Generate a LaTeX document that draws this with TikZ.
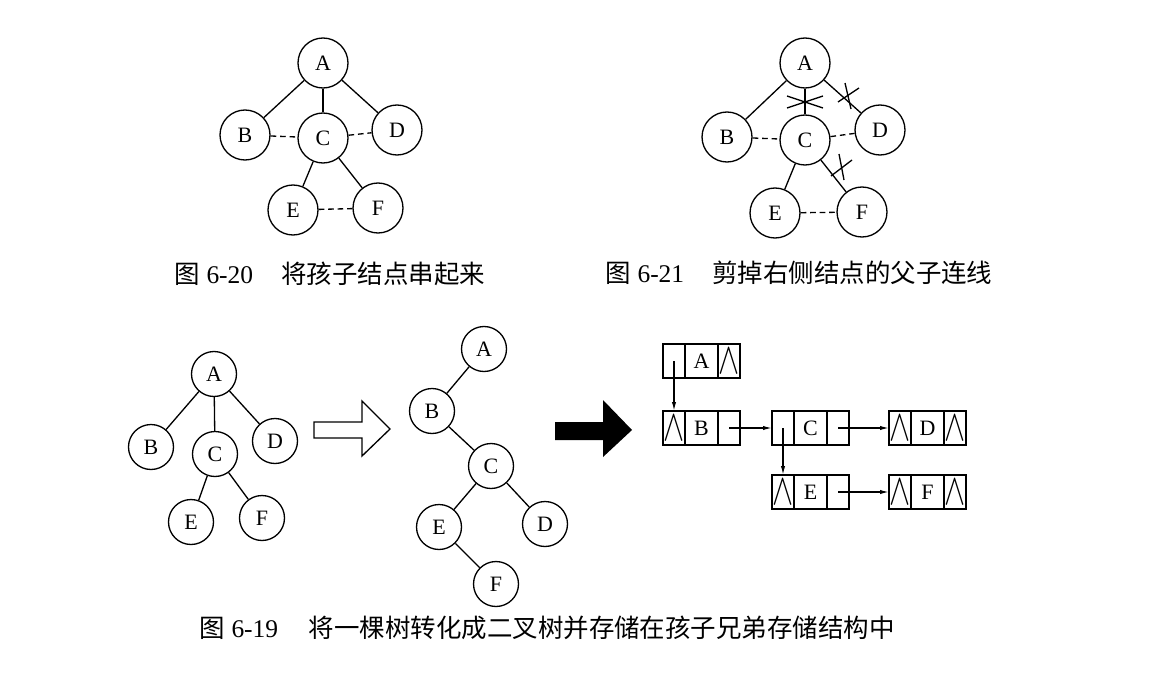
\documentclass[tikz,border=0pt]{standalone}
\usepackage{fontspec}
\setmainfont{Liberation Serif}
\newfontfamily\cjk{Noto Sans CJK SC}
\usepackage{graphicx}
\usetikzlibrary{positioning,arrows.meta}

\newcommand{\nullsym}{\scalebox{1.5}[2.1]{$\wedge$}}
% one child-sibling record: first child | data | next sibling
\newcommand{\listnode}[5]{%
  \node[cellS] (#1l) at (#2) {#3};
  \node[cellM, right=0pt of #1l] (#1d) {#4};
  \node[cellS, right=0pt of #1d] (#1r) {#5};
}

\begin{document}
\begin{tikzpicture}[x=0.02cm, y=-0.02cm, line width=0.75pt,
    vtx/.style={draw, circle, minimum size=1cm, inner sep=0pt, font=\fontsize{12.5}{14}\selectfont},
    vtxs/.style={vtx, minimum size=0.9cm},
    sib/.style={dash pattern=on 3.2pt off 2.2pt},
    cellS/.style={draw, minimum width=0.44cm, minimum height=0.68cm, inner sep=0pt, outer sep=0pt, font=\fontsize{12.5}{14}\selectfont},
    cellM/.style={cellS, minimum width=0.66cm},
    ptr/.style={-{Latex[length=5pt,width=2.4pt]}},
    figcap/.style={anchor=west, inner sep=0pt, font=\fontsize{14.5}{17}\selectfont}]
    \useasboundingbox (0,0) rectangle (1168,696);

    % Fig 6-20: children strung together
    \node[vtx] (a1) at (323,63) {A};
    \node[vtx] (b1) at (245,135) {B};
    \node[vtx] (c1) at (323,138) {C};
    \node[vtx] (d1) at (397,130) {D};
    \node[vtx] (e1) at (293,210) {E};
    \node[vtx] (f1) at (378,208) {F};
    \draw (a1) -- (b1);
    \draw (a1) -- (c1);
    \draw (a1) -- (d1);
    \draw (c1) -- (e1);
    \draw (c1) -- (f1);
    \draw[sib] (b1) -- (c1);
    \draw[sib] (c1) -- (d1);
    \draw[sib] (e1) -- (f1);
    \node[figcap] (cap1) at (174,274) {{\cjk 图}\ 6-20\hspace{1.1em}{\cjk 将孩子结点串起来}};

    % Fig 6-21: cut parent links of right nodes
    \node[vtx] (a2) at (805,63) {A};
    \node[vtx] (b2) at (727,137) {B};
    \node[vtx] (c2) at (805,140) {C};
    \node[vtx] (d2) at (880,130) {D};
    \node[vtx] (e2) at (775,213) {E};
    \node[vtx] (f2) at (862,212) {F};
    \draw (a2) -- (b2);
    \draw (a2) -- (c2);
    \draw (a2) -- (d2);
    \draw (c2) -- (e2);
    \draw (c2) -- (f2);
    \draw[sib] (b2) -- (c2);
    \draw[sib] (c2) -- (d2);
    \draw[sib] (e2) -- (f2);
    % cut marks
    \coordinate (cutAC) at (805,102);
    \coordinate (cutAD) at (848,96);
    \coordinate (cutCF) at (841,167);
    \draw (cutAC) ++(-18,-6) -- ++(36,12);
    \draw (cutAC) ++(-18,6) -- ++(36,-12);
    \draw (cutAD) ++(-3,-13) -- ++(6,26);
    \draw (cutAD) ++(-10,6) -- ++(21,-14);
    \draw (cutCF) ++(-2,-13) -- ++(5,26);
    \draw (cutCF) ++(-10,9) -- ++(21,-16);
    \node[figcap] (cap2) at (605,273) {{\cjk 图}\ 6-21\hspace{1.1em}{\cjk 剪掉右侧结点的父子连线}};

    % Fig 6-19: tree
    \node[vtxs] (a3) at (214,374) {A};
    \node[vtxs] (b3) at (151,447) {B};
    \node[vtxs] (c3) at (215,454) {C};
    \node[vtxs] (d3) at (275,441) {D};
    \node[vtxs] (e3) at (191,522) {E};
    \node[vtxs] (f3) at (262,518) {F};
    \draw (a3) -- (b3);
    \draw (a3) -- (c3);
    \draw (a3) -- (d3);
    \draw (c3) -- (e3);
    \draw (c3) -- (f3);

    % hollow arrow
    \draw (314,422) -- (362,422) -- (362,401) -- (390,429) -- (362,456) -- (362,438) -- (314,438) -- cycle;

    % binary tree
    \node[vtxs] (a4) at (484,349) {A};
    \node[vtxs] (b4) at (432,411) {B};
    \node[vtxs] (c4) at (491,466) {C};
    \node[vtxs] (e4) at (439,527) {E};
    \node[vtxs] (d4) at (545,524) {D};
    \node[vtxs] (f4) at (496,584) {F};
    \draw (a4) -- (b4);
    \draw (b4) -- (c4);
    \draw (c4) -- (e4);
    \draw (c4) -- (d4);
    \draw (e4) -- (f4);

    % black arrow
    \fill (555,422) -- (603,422) -- (603,400) -- (632,430) -- (603,457) -- (603,440) -- (555,440) -- cycle;

    % child-sibling storage
    \listnode{LA}{674,361}{}{A}{\nullsym}
    \listnode{LB}{674,428}{\nullsym}{B}{}
    \listnode{LC}{783,428}{}{C}{}
    \listnode{LD}{900,428}{\nullsym}{D}{\nullsym}
    \listnode{LE}{783,492}{\nullsym}{E}{}
    \listnode{LF}{900,492}{\nullsym}{F}{\nullsym}
    \draw[ptr] (LAl.center) -- (LBl.north);
    \draw[ptr] (LBr.center) -- (LCl.west);
    \draw[ptr] (LCl.center) -- (LEl.north);
    \draw[ptr] (LCr.center) -- (LDl.west);
    \draw[ptr] (LEr.center) -- (LFl.west);

    \node[figcap] (cap3) at (199,628) {{\cjk 图}\ 6-19\hspace{1.2em}{\cjk 将一棵树转化成二叉树并存储在孩子兄弟存储结构中}};
\end{tikzpicture}
\end{document}
